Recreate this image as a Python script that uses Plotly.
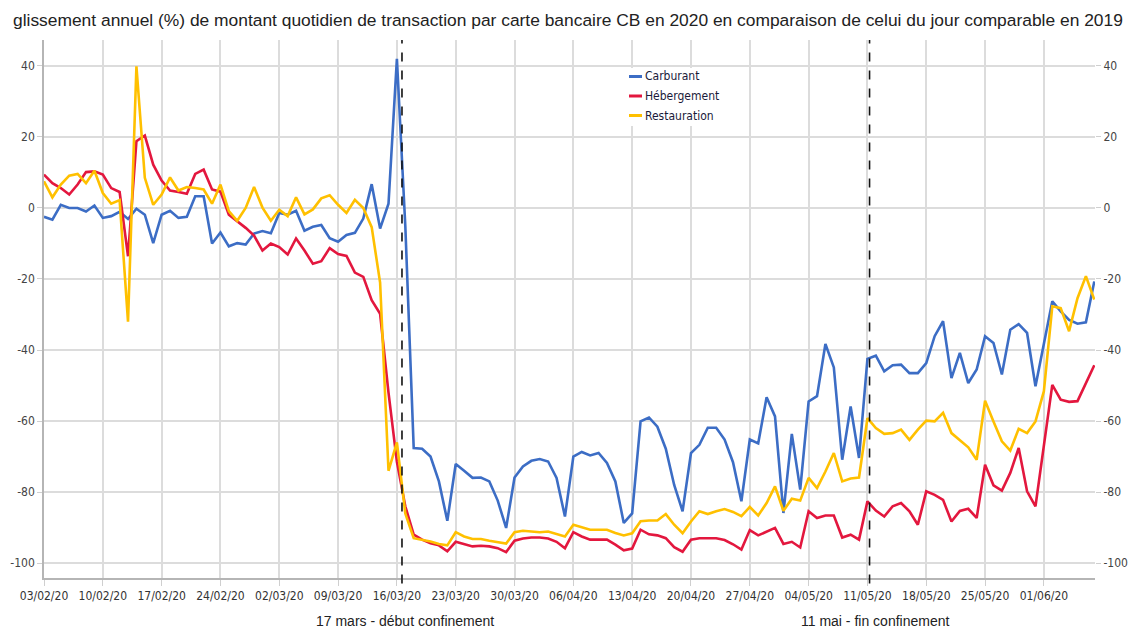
import pandas as pd
import plotly.graph_objects as go

dates = pd.date_range("2020-02-03", periods=126, freq="D")

carburant = [
    -2.5, -3.3, 0.9, 0.0, 0.0, -1.0, 0.7, -2.8, -2.3, -1.1,
    -3.1, -0.2, -1.9, -9.9, -1.9, -0.8, -2.8, -2.5, 3.3, 3.3,
    -10.0, -6.9, -10.8, -9.9, -10.3, -7.2, -6.5, -7.1, -1.4, -1.9,
    -0.8, -6.4, -5.3, -4.8, -8.5, -9.5, -7.6, -7.0, -3.0, 6.7,
    -5.8, 1.2, 42.0, -5.0, -67.6, -67.8, -70.0, -77.0, -88.1, -72.1,
    -74.0, -76.0, -75.9, -77.0, -82.4, -90.1, -75.9, -72.8, -71.2, -70.7,
    -71.4, -76.0, -86.9, -70.0, -68.7, -69.7, -69.0, -71.8, -77.0, -88.7,
    -86.0, -60.1, -59.0, -61.6, -67.8, -78.0, -85.4, -69.0, -66.7, -61.9,
    -61.9, -65.2, -71.6, -82.6, -65.2, -66.3, -53.3, -58.7, -85.9, -63.6,
    -79.3, -54.5, -53.0, -38.3, -44.9, -70.9, -55.9, -70.4, -42.5, -41.6,
    -46.0, -44.3, -44.1, -46.5, -46.5, -43.7, -36.1, -31.9, -47.9, -40.8,
    -49.3, -45.5, -36.1, -38.0, -46.9, -34.3, -32.7, -35.2, -50.2, -38.5,
    -26.3, -29.1, -31.5, -32.6, -32.2, -20.7,
]

hebergement = [
    9.4, 7.0, 5.6, 3.8, 6.6, 10.1, 10.3, 9.4, 5.6, 4.5,
    -13.6, 18.8, 20.4, 12.2, 7.7, 4.9, 4.5, 4.0, 9.6, 10.8,
    5.2, 4.6, -1.9, -3.8, -5.6, -7.8, -12.0, -10.0, -11.0, -13.1,
    -8.6, -12.0, -15.7, -15.0, -11.3, -13.0, -13.5, -18.2, -19.4, -26.0,
    -29.8, -52.0, -71.5, -84.0, -92.0, -93.4, -94.4, -95.0, -96.7, -94.0,
    -94.6, -95.3, -95.1, -95.3, -95.8, -96.9, -93.7, -93.1, -92.8, -92.8,
    -93.1, -94.0, -95.8, -91.3, -92.5, -93.4, -93.4, -93.4, -94.8, -96.4,
    -95.9, -90.6, -91.9, -92.2, -93.0, -95.5, -96.8, -93.4, -93.0, -93.0,
    -93.0, -93.5, -94.7, -96.2, -90.7, -92.2, -91.1, -90.1, -94.6, -94.0,
    -95.6, -85.4, -87.3, -86.6, -86.6, -92.8, -92.0, -93.4, -82.6, -85.2,
    -86.9, -84.0, -83.1, -85.4, -89.2, -79.8, -80.8, -82.2, -88.3, -85.3,
    -84.7, -87.3, -72.3, -78.1, -79.6, -74.6, -67.6, -79.8, -84.0, -67.0,
    -49.8, -54.0, -54.6, -54.4, -49.5, -44.3,
]

restauration = [
    7.5, 3.0, 6.6, 9.1, 9.6, 7.0, 10.5, 4.2, 1.2, 2.2,
    -32.0, 39.9, 8.5, 0.9, 3.8, 8.6, 4.9, 5.9, 5.6, 5.2,
    1.2, 6.6, -0.9, -3.6, 0.0, 5.9, 0.1, -3.6, -0.5, -2.3,
    3.0, -1.8, -0.4, 2.7, 3.6, 0.9, -1.4, 2.3, 0.0, -5.4,
    -21.0, -74.0, -66.0, -86.0, -93.0, -93.4, -93.9, -94.6, -95.0, -91.3,
    -92.5, -93.2, -93.2, -93.7, -94.0, -94.5, -91.3, -90.9, -91.1, -91.3,
    -91.1, -91.8, -92.5, -89.2, -89.9, -90.6, -90.6, -90.6, -91.5, -92.2,
    -91.6, -88.2, -88.0, -88.0, -86.2, -89.2, -91.6, -88.3, -85.4, -86.2,
    -85.4, -84.8, -85.6, -86.8, -84.2, -86.6, -83.1, -78.4, -85.3, -81.9,
    -82.4, -76.0, -78.9, -74.2, -69.0, -77.0, -76.2, -75.9, -59.2, -62.0,
    -63.6, -63.4, -62.4, -65.3, -62.4, -59.9, -60.1, -57.7, -63.4, -65.3,
    -67.4, -70.9, -54.3, -60.1, -65.7, -68.3, -62.2, -63.4, -60.1, -51.6,
    -27.7, -28.2, -34.7, -25.4, -19.2, -25.8,
]

series_names = ["Carburant", "Hébergement", "Restauration"]
series_colors = ["#3C6DC5", "#E3173E", "#FFC000"]
series_values = [carburant, hebergement, restauration]

tick_dates = pd.date_range("2020-02-03", "2020-06-01", freq="7D")
tick_labels = [d.strftime("%d/%m/%y") for d in tick_dates]
y_ticks = [40, 20, 0, -20, -40, -60, -80, -100]
y_labels = [str(v) for v in y_ticks]

event_dates = ["2020-03-16 14:30", "2020-05-11 06:00"]
event_labels = ["17 mars - début confinement", "11 mai - fin confinement"]

TITLE = ("glissement annuel (%) de montant quotidien de transaction par carte bancaire CB "
         "en 2020 en comparaison de celui du jour comparable en 2019")

FONT = "Liberation Sans Narrow, Arial Narrow, DejaVu Sans Condensed, Liberation Sans, Arial, sans-serif"

# page has an 8px body margin: figure occupies page pixels 8..1137 x 8..631
OFF = 8
PAGE_W, PAGE_H = 1137, 631
W, H = PAGE_W - OFF, PAGE_H - OFF
# plot area in page pixels: x 44..1095, y 40..578
ML = 44 - OFF
MR = W - (1095 - OFF)
MT = 40 - OFF
MB = H - (578 - OFF)
PW = W - ML - MR
PH = H - MT - MB


def px_x(p):
    """page pixel -> paper x"""
    return (p - OFF - ML) / PW


def px_y(p):
    """page pixel -> paper y"""
    return (H - MB - (p - OFF)) / PH


fig = go.Figure()
for name, color, vals in zip(series_names, series_colors, series_values):
    fig.add_trace(go.Scatter(x=dates, y=vals, mode="lines", name=name,
                             line=dict(color=color, width=2.6), showlegend=False))

# mirror trace for right axis
fig.add_trace(go.Scatter(x=[dates[0]], y=[0], yaxis="y2", mode="markers",
                         marker=dict(opacity=0), showlegend=False, hoverinfo="skip"))

shapes = []
for d in event_dates:
    shapes.append(dict(type="line", xref="x", yref="paper", x0=d, x1=d, y0=-0.01, y1=1,
                       line=dict(color="#111", width=1.6, dash="dash")))

# legend box
shapes.append(dict(type="rect", xref="paper", yref="paper",
                   x0=px_x(626), x1=px_x(722), y0=px_y(126), y1=px_y(68),
                   fillcolor="white", line=dict(width=0), layer="above"))
annotations = []
for i, (name, color) in enumerate(zip(series_names, series_colors)):
    yc = 76.5 + i * 19.5
    shapes.append(dict(type="line", xref="paper", yref="paper",
                       x0=px_x(629), x1=px_x(642), y0=px_y(yc), y1=px_y(yc),
                       line=dict(color=color, width=3), layer="above"))
    annotations.append(dict(text=name, xref="paper", yref="paper", x=px_x(643), y=px_y(yc),
                            xanchor="left", yanchor="middle", showarrow=False,
                            font=dict(family=FONT, size=12, color="#1a1a3a")))

for d, lab, cx in zip(event_dates, event_labels, [405, 875]):
    annotations.append(dict(text=lab, xref="paper", yref="paper", x=px_x(cx), y=px_y(621),
                            xanchor="center", yanchor="middle", showarrow=False,
                            font=dict(family="Liberation Sans, Arial, sans-serif", size=14, color="#222")))

annotations.append(dict(text=TITLE, xref="paper", yref="paper", x=px_x(568), y=px_y(20),
                        xanchor="center", yanchor="middle", showarrow=False,
                        font=dict(family="Liberation Sans, Arial, sans-serif", size=17.4, color="#222")))

yr = [-104.2, 47.3]
fig.update_layout(
    width=W, height=H,
    margin=dict(l=ML, r=MR, t=MT, b=MB, autoexpand=False),
    paper_bgcolor="white", plot_bgcolor="white",
    showlegend=False,
    shapes=shapes,
    annotations=annotations,
    xaxis=dict(
        type="date",
        range=["2020-02-03", "2020-06-07 02:00"],
        tickvals=tick_dates, ticktext=tick_labels,
        showgrid=True, gridcolor="#dcdcdc", gridwidth=1.5,
        showline=True, linecolor="#b5b5b5", linewidth=1.5,
        ticks="outside", ticklen=6, tickcolor="#cfcfcf",
        tickfont=dict(family=FONT, size=12, color="#333"),
        zeroline=False, automargin=False,
    ),
    yaxis=dict(
        range=yr, tickvals=y_ticks, ticktext=y_labels,
        showgrid=True, gridcolor="#dcdcdc", gridwidth=1.5,
        showline=True, linecolor="#b5b5b5", linewidth=1.5,
        ticks="outside", ticklen=5, tickcolor="#cfcfcf",
        tickfont=dict(family=FONT, size=12, color="#444"),
        zeroline=False, automargin=False,
    ),
    yaxis2=dict(
        range=yr, tickvals=y_ticks, ticktext=y_labels, overlaying="y", side="right",
        showgrid=False, showline=False,
        ticks="outside", ticklen=5, tickcolor="#cfcfcf",
        tickfont=dict(family=FONT, size=12, color="#444"),
        zeroline=False, automargin=False,
    ),
)

fig.write_html("out.html")
